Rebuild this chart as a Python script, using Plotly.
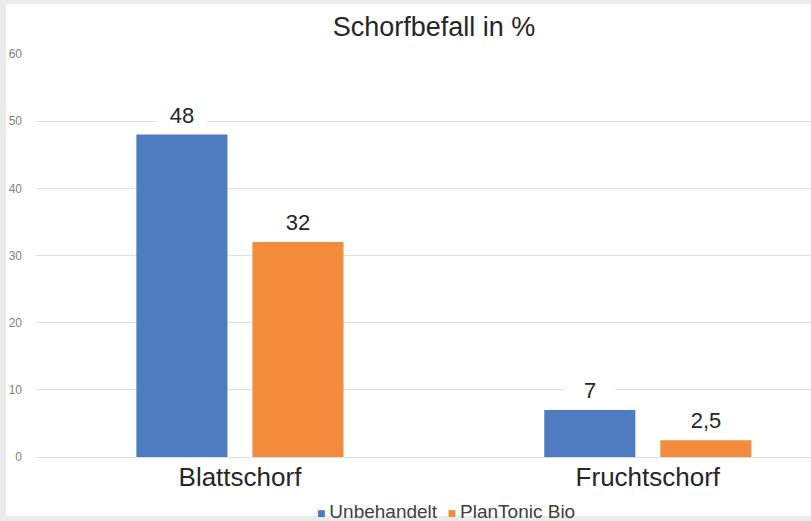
import plotly.graph_objects as go

# Daten
kategorien = ["Blattschorf", "Fruchtschorf"]
unbehandelt = [48, 7]
plantonic = [32, 2.5]
serien = ["Unbehandelt", "PlanTonic Bio"]
y_ticks = [0, 10, 20, 30, 40, 50, 60]

blau = "#4f7bc1"
orange = "#f28b3b"

fig = go.Figure()
fig.add_trace(go.Bar(x=kategorien, y=unbehandelt, name=serien[0],
                     marker=dict(color=blau, line=dict(width=0))))
fig.add_trace(go.Bar(x=kategorien, y=plantonic, name=serien[1],
                     marker=dict(color=orange, line=dict(width=0))))

# Datenbeschriftungen (Dezimalkomma)
def lbl(v):
    return f"{v:g}".replace(".", ",")

annot = []
for werte, dx in ((unbehandelt, -58), (plantonic, 58)):
    for kat, v in zip(kategorien, werte):
        annot.append(dict(x=kat, y=v, text=lbl(v), showarrow=False,
                          xshift=dx, yshift=5, yanchor="bottom",
                          width=48, bgcolor="white",
                          font=dict(size=22, color="#262626")))

# Legende im Excel-Stil (kleine Quadrate direkt vor dem Text)
def eintrag(name, farbe):
    return f"<span style='color:{farbe};font-size:14px'>■ </span>{name}"

annot.append(dict(xref="paper", yref="paper", x=0.529, y=-0.134,
                  xanchor="center", yanchor="middle", showarrow=False,
                  text=eintrag(serien[0], blau) + "  " + eintrag(serien[1], orange),
                  font=dict(size=19, color="#404040")))

fig.update_layout(
    width=811, height=521,
    margin=dict(l=36, r=0, t=54, b=64),
    paper_bgcolor="#ebebeb",
    plot_bgcolor="white",
    font=dict(family="Liberation Sans, Arial, sans-serif", color="#262626"),
    title=dict(text="Schorfbefall in %", x=434 / 811, xanchor="center",
               y=1 - 27 / 521, yanchor="middle",
               font=dict(size=27, color="#262626")),
    barmode="group",
    bargap=0.431,
    bargroupgap=0.215,
    showlegend=False,
    annotations=annot,
    shapes=[dict(type="rect", xref="paper", yref="paper",
                 x0=-0.0387, x1=1.01, y0=-0.1464, y1=1.124,
                 fillcolor="white", line=dict(width=0), layer="below")],
)

fig.update_xaxes(range=[-0.5, 1.4], showgrid=False, showline=False,
                 zeroline=False, ticks="", automargin=False,
                 tickfont=dict(size=26, color="#262626"),
                 ticklabelstandoff=2)
fig.update_yaxes(range=[0, 60], tickvals=y_ticks, showgrid=True,
                 gridcolor="#dedede", gridwidth=1, zeroline=True,
                 zerolinecolor="#dedede", zerolinewidth=1, showline=False,
                 ticks="", automargin=False,
                 tickfont=dict(size=12, color="#7f7f7f"),
                 ticklabelstandoff=13)

fig.write_html("out.html", config={"displayModeBar": False},
               post_script="document.body.style.margin='0';")
